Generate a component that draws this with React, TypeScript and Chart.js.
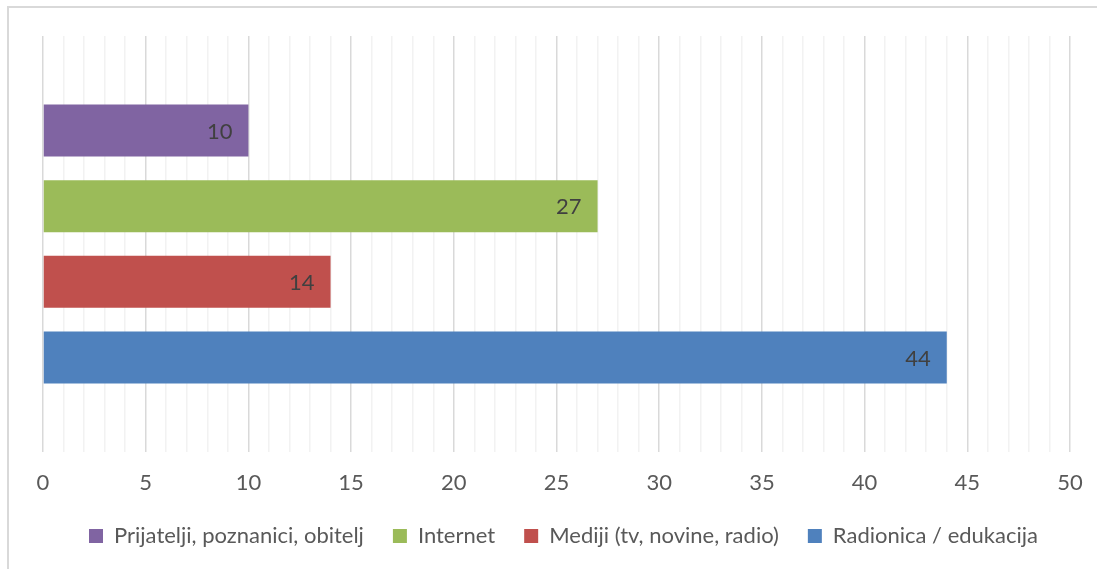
import React, { useEffect, useRef } from "react";
import { Chart, registerables } from "chart.js";

Chart.register(...registerables);

const categories = [""];
const seriesNames = [
  "Prijatelji, poznanici, obitelj",
  "Internet",
  "Mediji (tv, novine, radio)",
  "Radionica / edukacija",
];
const seriesValues = [10, 27, 14, 44];
const seriesColors = ["#8064a2", "#9bbb59", "#c0504d", "#4f81bd"];
const tickLabels = ["0", "5", "10", "15", "20", "25", "30", "35", "40", "45", "50"];

const FONT = "Lato, 'Open Sans', sans-serif";

const dataLabels = {
  id: "dataLabels",
  afterLayout(chart: any) {
    if (chart.legend) {
      chart.legend.left += 7;
      chart.legend.right += 7;
    }
  },
  afterDatasetsDraw(chart: any) {
    const ctx = chart.ctx;
    ctx.save();
    ctx.font = `22px ${FONT}`;
    ctx.fillStyle = "#404040";
    ctx.textAlign = "right";
    ctx.textBaseline = "middle";
    chart.data.datasets.forEach((ds: any, i: number) => {
      const meta = chart.getDatasetMeta(i);
      meta.data.forEach((el: any, j: number) => {
        ctx.fillText(String(ds.data[j]), el.x - 16, el.y + 1);
      });
    });
    ctx.restore();
  },
};

export default function App() {
  const ref = useRef<HTMLCanvasElement>(null);
  useEffect(() => {
    if (!ref.current) return;
    const chart = new Chart(ref.current, {
      type: "bar",
      data: {
        labels: categories,
        datasets: seriesNames.map((name, i) => ({
          label: name,
          data: [seriesValues[i]],
          backgroundColor: seriesColors[i],
          borderWidth: 0,
          categoryPercentage: 0.728,
          barPercentage: 0.687,
        })),
      },
      options: {
        indexAxis: "y",
        responsive: false,
        animation: false,
        devicePixelRatio: 1,
        layout: { padding: { left: 43, right: 27, top: 36, bottom: 12 } },
        scales: {
          x: {
            min: 0,
            max: 50,
            border: { display: false },
            afterFit: (scale: any) => {
              scale.height = 44;
              scale.paddingLeft = 0;
              scale.paddingRight = 0;
            },
            grid: {
              drawTicks: false,
              lineWidth: 1.5,
              color: (c: any) =>
                c.tick && c.tick.value % 5 === 0 ? "#d9d9d9" : "#f2f2f2",
            },
            ticks: {
              stepSize: 1,
              autoSkip: false,
              maxRotation: 0,
              padding: 18,
              color: "#595959",
              font: { family: FONT, size: 22 },
              callback: (v: any) => {
                const n = Number(v);
                return n % 5 === 0 ? tickLabels[n / 5] : "";
              },
            },
          },
          y: { display: false },
        },
        plugins: {
          legend: {
            position: "bottom",
            labels: {
              boxWidth: 14,
              boxHeight: 14,
              padding: 29,
              color: "#595959",
              font: { family: FONT, size: 22 },
            },
          },
          tooltip: { enabled: false },
        },
      },
      plugins: [dataLabels],
    });
    return () => chart.destroy();
  }, []);
  return (
    <div>
      <div
        style={{
          position: "fixed",
          left: 7,
          top: 6,
          width: 1200,
          height: 700,
          borderTop: "2px solid #d9d9d9",
          borderLeft: "2px solid #d9d9d9",
        }}
      />
      <canvas
        ref={ref}
        width={1097}
        height={569}
        style={{ position: "fixed", left: 0, top: 0, width: 1097, height: 569 }}
      />
    </div>
  );
}
